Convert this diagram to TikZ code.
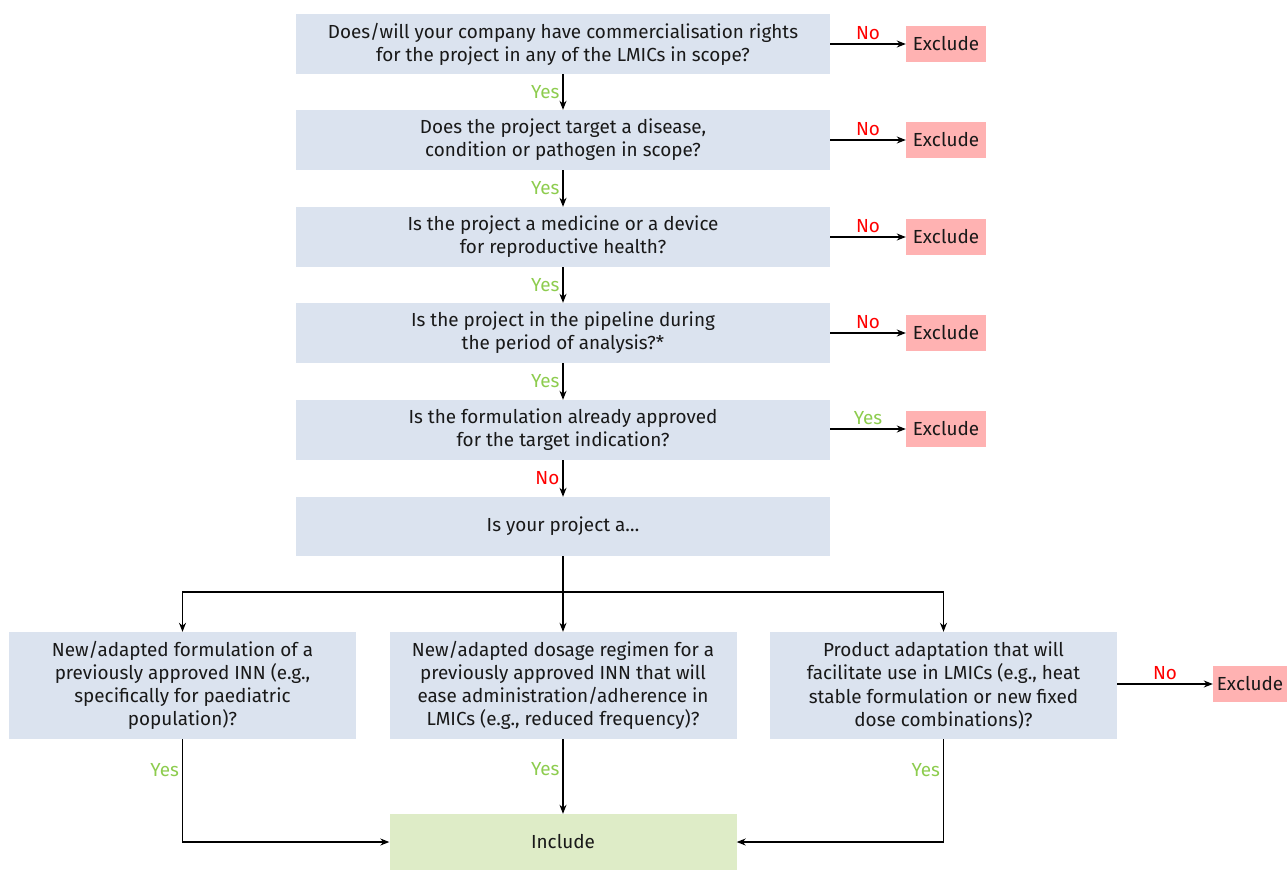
\documentclass[tikz,border=0pt]{standalone}
\usepackage{fontspec}
\setmainfont{Fira Sans}
\usetikzlibrary{arrows.meta}
\definecolor{qfill}{RGB}{219,227,239}
\definecolor{xfill}{RGB}{255,178,178}
\definecolor{ifill}{RGB}{222,236,199}
\definecolor{yescol}{RGB}{141,204,78}
\definecolor{nocol}{RGB}{255,0,0}
\definecolor{txt}{RGB}{25,25,25}
\begin{document}
\begin{tikzpicture}[x=1pt,y=-1pt,
  font=\fontsize{18.9}{23.2}\selectfont,
  question/.style={fill=qfill,text=txt,align=center,inner sep=0pt,minimum width=534pt,minimum height=60pt},
  option/.style={fill=qfill,text=txt,align=center,inner sep=0pt,minimum width=347pt,minimum height=107pt},
  exclude/.style={fill=xfill,text=txt,inner sep=0pt,minimum width=80pt,minimum height=36pt},
  include/.style={fill=ifill,text=txt,inner sep=0pt,minimum width=347pt,minimum height=56pt},
  flow/.style={draw=black,line width=1.2pt,-{Stealth[length=9pt,width=7pt]}},
  yes/.style={text=yescol},
  no/.style={text=nocol}]
\useasboundingbox (0,0) rectangle (1287,870);

% main questions
\node[question] (q1) at (563,44) {Does/will your company have commercialisation rights\\for the project in any of the LMICs in scope?};
\node[question] (q2) at (563,140) {Does the project target a disease,\\condition or pathogen in scope?};
\node[question] (q3) at (563,237) {Is the project a medicine or a device\\for reproductive health?};
\node[question] (q4) at (563,333) {Is the project in the pipeline during\\the period of analysis?*};
\node[question] (q5) at (563,430) {Is the formulation already approved\\for the target indication?};
\node[question,minimum height=59pt] (q6) at (563,526.5) {Is your project a…};

% exclusion boxes
\node[exclude] (e1) at (946,44) {Exclude};
\node[exclude] (e2) at (946,140) {Exclude};
\node[exclude] (e3) at (946,237) {Exclude};
\node[exclude] (e4) at (946,333) {Exclude};
\node[exclude] (e5) at (946,429) {Exclude};

% project types
\node[option] (o1) at (182.5,685.5) {New/adapted formulation of a\\previously approved INN (e.g.,\\specifically for paediatric\\population)?};
\node[option] (o2) at (563,685.5) {New/adapted dosage regimen for a\\previously approved INN that will\\ease administration/adherence in\\LMICs (e.g., reduced frequency)?};
\node[option] (o3) at (943.5,685.5) {Product adaptation that will\\facilitate use in LMICs (e.g., heat\\stable formulation or new fixed\\dose combinations)?};
\node[exclude,minimum width=74pt] (e6) at (1250,684) {Exclude};
\node[include] (inc) at (563,842) {Include};

% vertical chain
\draw[flow] (q1) -- node[yes,left,inner sep=3pt] {Yes} (q2);
\draw[flow] (q2) -- node[yes,left,inner sep=3pt] {Yes} (q3);
\draw[flow] (q3) -- node[yes,left,inner sep=3pt] {Yes} (q4);
\draw[flow] (q4) -- node[yes,left,inner sep=3pt] {Yes} (q5);
\draw[flow] (q5) -- node[no,left,inner sep=3pt] {No} (q6);

% exits to the right
\draw[flow] (q1.east |- e1) -- node[no,above,inner sep=4pt] {No} (e1);
\draw[flow] (q2.east |- e2) -- node[no,above,inner sep=4pt] {No} (e2);
\draw[flow] (q3.east |- e3) -- node[no,above,inner sep=4pt] {No} (e3);
\draw[flow] (q4.east |- e4) -- node[no,above,inner sep=4pt] {No} (e4);
\draw[flow] (q5.east |- e5) -- node[yes,above,inner sep=4pt] {Yes} (e5);
\draw[flow] (o3.east |- e6) -- node[no,above,inner sep=4pt] {No} (e6);

% branching to the three project types
\coordinate (split) at (563,592);
\draw[line width=1.2pt] (q6.south) -- (split);
\draw[flow] (split) -| (o1.north);
\draw[flow] (split) -- (o2.north);
\draw[flow] (split) -| (o3.north);

% joining into include
\draw[flow] (o1.south) -- node[yes,left,inner sep=3pt,pos=0.3] {Yes} (o1.south |- inc) -- (inc.west);
\draw[flow] (o2.south) -- node[yes,left,inner sep=3pt,pos=0.4] {Yes} (inc.north);
\draw[flow] (o3.south) -- node[yes,left,inner sep=3pt,pos=0.3] {Yes} (o3.south |- inc) -- (inc.east);
\end{tikzpicture}
\end{document}
